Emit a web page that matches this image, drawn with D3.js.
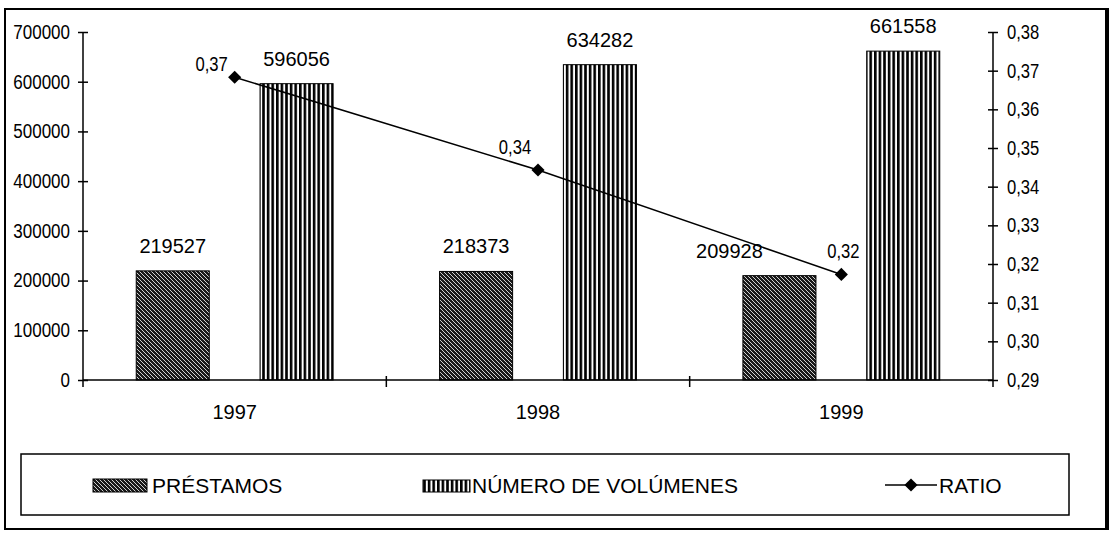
<!DOCTYPE html>
<html>
<head>
<meta charset="utf-8">
<script src="https://cdn.jsdelivr.net/npm/d3@7"></script>
<style>
  body { margin: 0; background: #fff; }
  text { fill: #000; }
  .narrow, .reg { font-family: "Liberation Sans", Arial, sans-serif; }
</style>
</head>
<body>
<svg width="1117" height="533"></svg>
<script>
var years = ["1997", "1998", "1999"];
var prestamos = [219527, 218373, 209928];
var volumenes = [596056, 634282, 661558];
var ratio = [0.3683, 0.3443, 0.3173];
var leftTicks = [0, 100000, 200000, 300000, 400000, 500000, 600000, 700000];
var rightTicks = [0.29, 0.30, 0.31, 0.32, 0.33, 0.34, 0.35, 0.36, 0.37, 0.38];
var seriesNames = ["PRÉSTAMOS", "NÚMERO DE VOLÚMENES", "RATIO"];

var es = d3.formatLocale({decimal: ",", thousands: ".", grouping: [3], currency: ["", " €"]});
var fmt2 = es.format(".2f");

var svg = d3.select("svg");
var pLeft = 83, pRight = 993, pTop = 32, pBottom = 380;

// squeeze text horizontally to imitate Arial Narrow
function narrow(sel, k) {
  sel.each(function() {
    var w = this.getComputedTextLength();
    d3.select(this).attr("textLength", w * k).attr("lengthAdjust", "spacingAndGlyphs");
  });
}

// patterns
var defs = svg.append("defs");
var diag = defs.append("pattern").attr("id", "diag")
    .attr("patternUnits", "userSpaceOnUse").attr("width", 4).attr("height", 4);
diag.append("rect").attr("width", 4).attr("height", 4).attr("fill", "#1a1a1a");
diag.append("path").attr("d", "M-1,-1L5,5M3,-1L5,1M-1,3L1,5")
    .attr("stroke", "#fff").attr("stroke-width", 0.8);

var vert = defs.append("pattern").attr("id", "vert")
    .attr("patternUnits", "userSpaceOnUse").attr("width", 4.6).attr("height", 10);
vert.append("rect").attr("width", 4.6).attr("height", 10).attr("fill", "#fff");
vert.append("rect").attr("width", 2.6).attr("height", 10).attr("fill", "#000");

// outer frame
svg.append("rect").attr("x", 5).attr("y", 9).attr("width", 1102).attr("height", 520)
    .attr("fill", "none").attr("stroke", "#000").attr("stroke-width", 2);
svg.append("line").attr("x1", 1107).attr("x2", 1107).attr("y1", 8).attr("y2", 530)
    .attr("stroke", "#000").attr("stroke-width", 4);

var x = d3.scaleBand().domain(years).range([pLeft, pRight]);
var xs = d3.scaleBand().domain([0, 1]).range([0, x.bandwidth()])
    .paddingInner(0.41).paddingOuter(0.43);
var y = d3.scaleLinear().domain([0, 700000]).range([pBottom, pTop]);
var y2 = d3.scaleLinear().domain([0.29, 0.38]).range([pBottom, pTop]);

// bars
var series = [prestamos, volumenes];
var fills = ["url(#diag)", "url(#vert)"];
series.forEach(function(vals, s) {
  svg.append("g").selectAll("rect").data(vals).join("rect")
      .attr("x", (d, i) => x(years[i]) + xs(s))
      .attr("y", d => y(d))
      .attr("width", xs.bandwidth())
      .attr("height", d => pBottom - y(d))
      .attr("fill", fills[s])
      .attr("stroke", "#000").attr("stroke-width", 1);
});

// x axis
svg.append("line").attr("x1", pLeft).attr("x2", pRight).attr("y1", pBottom).attr("y2", pBottom)
    .attr("stroke", "#000").attr("stroke-width", 1.5);
svg.append("g").selectAll("line").data(years.slice(1)).join("line")
    .attr("x1", d => x(d)).attr("x2", d => x(d))
    .attr("y1", pBottom - 4).attr("y2", pBottom + 7)
    .attr("stroke", "#000").attr("stroke-width", 1.5);
svg.append("g").attr("class", "reg").selectAll("text").data(years).join("text")
    .attr("x", d => x(d) + x.bandwidth() / 2)
    .attr("y", 419)
    .attr("text-anchor", "middle")
    .style("font-size", "20px")
    .text(d => d);

// left axis
var gl = svg.append("g").attr("class", "narrow")
    .attr("transform", "translate(" + pLeft + ",0)")
    .call(d3.axisLeft(y).tickValues(leftTicks).tickFormat(d3.format("d")).tickSize(5).tickPadding(8));
gl.select(".domain").attr("d", "M0," + pTop + "V" + (pBottom + 7)).attr("stroke-width", 1.5);
gl.selectAll(".tick line").attr("x1", 5).attr("stroke-width", 1.5);
gl.selectAll(".tick text").style("font-size", "20px").attr("fill", "#000").call(narrow, 0.85);

// right axis
var gr = svg.append("g").attr("class", "narrow")
    .attr("transform", "translate(" + pRight + ",0)")
    .call(d3.axisRight(y2).tickValues(rightTicks).tickFormat(fmt2).tickSize(5).tickPadding(9));
gr.select(".domain").attr("d", "M0," + pTop + "V" + (pBottom + 7)).attr("stroke-width", 1.5);
gr.selectAll(".tick line").attr("x1", -5).attr("stroke-width", 1.5);
gr.selectAll(".tick text").style("font-size", "20px").attr("fill", "#000").call(narrow, 0.83);

// bar value labels
series.forEach(function(vals, s) {
  svg.append("g").attr("class", "reg").selectAll("text").data(vals).join("text")
      .attr("x", function(d, i) {
        var cx = x(years[i]) + xs(s) + xs.bandwidth() / 2;
        // last préstamos label sits left of the ratio label
        return (s === 0 && i === years.length - 1) ? cx - 50 : cx;
      })
      .attr("y", d => y(d) - 18)
      .attr("text-anchor", "middle")
      .style("font-size", "20px")
      .text(d => d);
});

// ratio line
var cxl = d => x(d) + x.bandwidth() / 2;
var line = d3.line().x((d, i) => cxl(years[i])).y(d => y2(d));
svg.append("path").datum(ratio).attr("d", line)
    .attr("fill", "none").attr("stroke", "#000").attr("stroke-width", 1.5);
var diamond = d3.symbol().type(d3.symbolDiamond2).size(110);
svg.append("g").selectAll("path").data(ratio).join("path")
    .attr("transform", (d, i) => "translate(" + cxl(years[i]) + "," + y2(d) + ")")
    .attr("d", diamond).attr("fill", "#000");
svg.append("g").attr("class", "narrow").selectAll("text").data(ratio).join("text")
    .attr("x", (d, i) => cxl(years[i]) + (i < 2 ? -23 : 2))
    .attr("y", (d, i) => y2(d) - (i === 0 ? 6 : 16))
    .attr("text-anchor", "middle")
    .style("font-size", "20px")
    .text(d => fmt2(d))
    .call(narrow, 0.83);

// legend
svg.append("rect").attr("x", 21).attr("y", 454).attr("width", 1048).attr("height", 61)
    .attr("fill", "none").attr("stroke", "#000").attr("stroke-width", 1.5);
var lg = svg.append("g").attr("class", "reg");
lg.append("rect").attr("x", 93).attr("y", 479).attr("width", 54).attr("height", 13)
    .attr("fill", "url(#diag)").attr("stroke", "#000");
lg.append("text").attr("x", 152).attr("y", 493).style("font-size", "21px").text(seriesNames[0]);
lg.append("rect").attr("x", 423).attr("y", 480).attr("width", 47).attr("height", 12)
    .attr("fill", "url(#vert)").attr("stroke", "#000");
lg.append("text").attr("x", 472).attr("y", 493).style("font-size", "21px").text(seriesNames[1]);
lg.append("line").attr("x1", 885).attr("x2", 937).attr("y1", 485).attr("y2", 485)
    .attr("stroke", "#000").attr("stroke-width", 1.5);
lg.append("path").attr("transform", "translate(911,485)").attr("d", diamond).attr("fill", "#000");
lg.append("text").attr("x", 939).attr("y", 493).style("font-size", "21px").text(seriesNames[2]);
</script>
</body>
</html>
